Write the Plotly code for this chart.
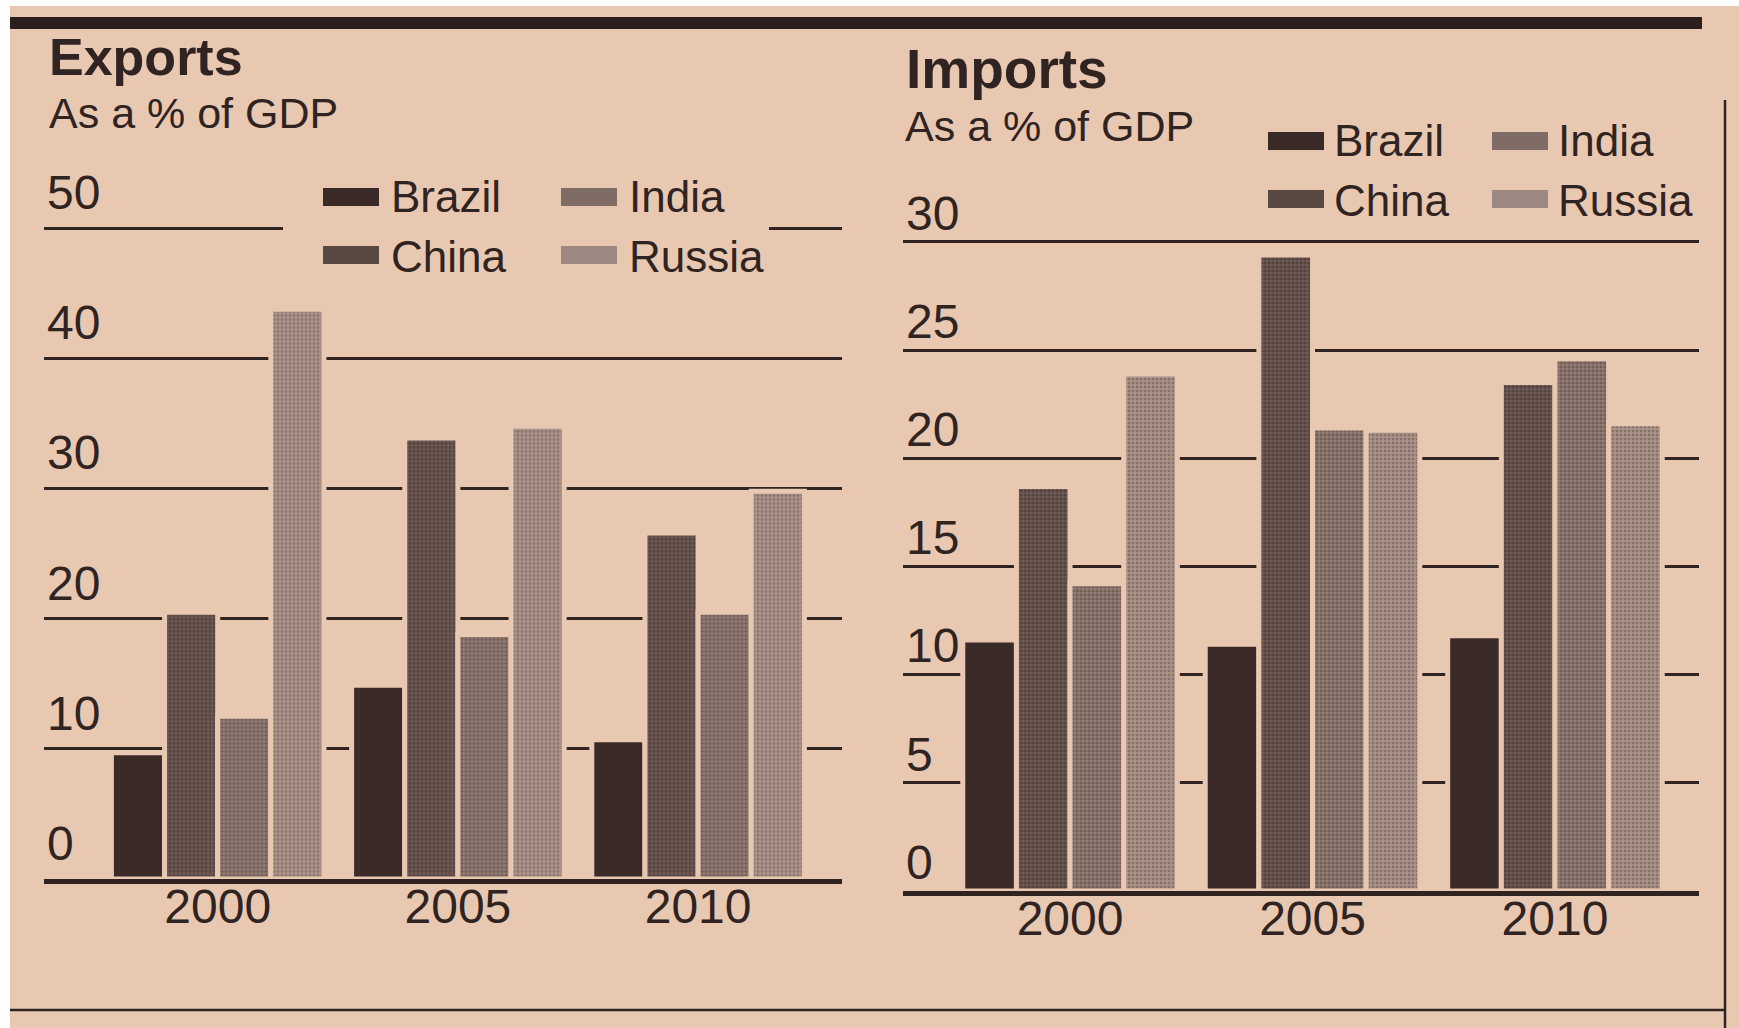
import plotly.graph_objects as go

# values (% of GDP)
years = ["2000", "2005", "2010"]
countries = ["Brazil", "China", "India", "Russia"]

exports_brazil = [9.7, 14.9, 10.7]
exports_china = [20.5, 33.9, 26.6]
exports_india = [12.5, 18.8, 20.5]
exports_russia = [43.8, 34.8, 29.8]

imports_brazil = [11.6, 11.4, 11.8]
imports_china = [18.7, 29.4, 23.5]
imports_india = [14.2, 21.4, 24.6]
imports_russia = [23.9, 21.3, 21.6]

export_ticks = [0, 10, 20, 30, 40, 50]
import_ticks = [0, 5, 10, 15, 20, 25, 30]

W, H = 1739, 1028
PAPER = "#e9c8b2"
INK = "#2f2421"
FONT = "Liberation Sans"


def fx(px):
    return px / W


def fy(py):
    return 1 - py / H


# halftone look for each country (swatch = average tone of the screen)
styles = {
    "Brazil": dict(color="#3a2b28", swatch="#3a2b28", pattern=dict(shape="")),
    "China": dict(color="#6f5a55", swatch="#5a4843",
                  pattern=dict(shape=".", fgcolor="#382a27", bgcolor="#6f5a55", size=4, solidity=0.5)),
    "India": dict(color="#937d75", swatch="#7f6c65",
                  pattern=dict(shape=".", fgcolor="#4f3f3a", bgcolor="#937d75", size=4, solidity=0.5)),
    "Russia": dict(color="#ad958b", swatch="#9c8880",
                   pattern=dict(shape=".", fgcolor="#63524c", bgcolor="#ad958b", size=4, solidity=0.45)),
}

exports = dict(zip(countries, [exports_brazil, exports_china, exports_india, exports_russia]))
imports = dict(zip(countries, [imports_brazil, imports_china, imports_india, imports_russia]))

# legend blocks: (legend name, left of swatch, top of legend) per column
LEG_ITEM_W = 56
exp_legs = [("legend", 323, 160), ("legend", 323, 160), ("legend2", 561, 160), ("legend2", 561, 160)]
imp_legs = [("legend3", 1268, 104), ("legend3", 1268, 104), ("legend4", 1492, 104), ("legend4", 1492, 104)]
ROW_OFFSETS = [37, 95]  # text centre below legend top, per row

fig = go.Figure()

for data, xa, ya, legs in [(exports, "x", "y", exp_legs), (imports, "x2", "y2", imp_legs)]:
    for i, country in enumerate(countries):
        st = styles[country]
        leg, sw_left, leg_top = legs[i]
        # the paper-coloured outline breaks the gridlines next to each bar
        fig.add_trace(go.Bar(
            x=years, y=data[country], name=country,
            xaxis=xa, yaxis=ya, showlegend=False,
            marker=dict(color=st["color"], pattern=st["pattern"],
                        line=dict(color=PAPER, width=5)),
            hoverinfo="y+name",
        ))
        # legend entry (text only, swatch drawn below as a wide block)
        fig.add_trace(go.Scatter(
            x=[None], y=[None], name=country, legend=leg, mode="lines",
            xaxis="x3", yaxis="y3", hoverinfo="skip",
            line=dict(color=st["swatch"], width=0),
        ))
        cy = leg_top + ROW_OFFSETS[i % 2]
        fig.add_shape(type="rect", xref="paper", yref="paper",
                      x0=fx(sw_left), x1=fx(sw_left + LEG_ITEM_W),
                      y0=fy(cy + 9), y1=fy(cy - 9),
                      fillcolor=st["swatch"], line_width=0)

axis_common = dict(showgrid=False, showline=True, linecolor=INK, linewidth=5,
                   ticks="", tickfont=dict(family=FONT, size=48, color=INK),
                   ticklabelstandoff=-19, type="category", fixedrange=True)
yaxis_common = dict(showgrid=True, gridcolor=INK, gridwidth=2.5, zeroline=False,
                    showline=False, ticks="", ticklabelposition="inside",
                    tickfont=dict(family=FONT, size=48, color=INK), fixedrange=True)

legend_common = dict(xanchor="left", yanchor="top", bgcolor="rgba(0,0,0,0)", itemwidth=LEG_ITEM_W,
                     font=dict(family=FONT, size=44, color=INK), tracegroupgap=0)

fig.update_layout(
    width=W, height=H,
    margin=dict(l=0, r=0, t=0, b=0),
    paper_bgcolor="white",
    plot_bgcolor="rgba(0,0,0,0)",
    barmode="group", bargap=0.115, bargroupgap=0,
    font=dict(family=FONT, color=INK),
    xaxis=dict(axis_common, domain=[fx(44), fx(842)], range=[-0.723, 2.599], anchor="y"),
    yaxis=dict(yaxis_common, domain=[fy(879), fy(137.4)], range=[0, 57],
               tickvals=export_ticks, ticklabelshift=-36, anchor="x"),
    xaxis2=dict(axis_common, domain=[fx(903), fx(1699)], range=[-0.689, 2.594], anchor="y2"),
    yaxis2=dict(yaxis_common, domain=[fy(891), fy(177)], range=[0, 33],
                tickvals=import_ticks, ticklabelshift=-29, anchor="x2"),
    xaxis3=dict(visible=False, domain=[0, 0.001], anchor="y3"),
    yaxis3=dict(visible=False, domain=[0, 0.001], anchor="x3"),
    # legend text starts 12px right of the swatch
    legend=dict(legend_common, x=fx(391 - LEG_ITEM_W - 10), y=fy(160)),
    legend2=dict(legend_common, x=fx(629 - LEG_ITEM_W - 10), y=fy(160)),
    legend3=dict(legend_common, x=fx(1334 - LEG_ITEM_W - 10), y=fy(104)),
    legend4=dict(legend_common, x=fx(1558 - LEG_ITEM_W - 10), y=fy(104)),
)

fig.add_annotation(text="<b>Exports</b>", x=fx(47), y=fy(57), xref="paper", yref="paper",
                   xanchor="left", yanchor="middle", showarrow=False,
                   font=dict(family=FONT, size=52, color=INK))
fig.add_annotation(text="As a % of GDP", x=fx(47), y=fy(113), xref="paper", yref="paper",
                   xanchor="left", yanchor="middle", showarrow=False,
                   font=dict(family=FONT, size=43, color=INK))
fig.add_annotation(text="<b>Imports</b>", x=fx(904), y=fy(69), xref="paper", yref="paper",
                   xanchor="left", yanchor="middle", showarrow=False,
                   font=dict(family=FONT, size=55, color=INK))
fig.add_annotation(text="As a % of GDP", x=fx(903), y=fy(126), xref="paper", yref="paper",
                   xanchor="left", yanchor="middle", showarrow=False,
                   font=dict(family=FONT, size=43, color=INK))

# newsprint page and rules
fig.add_shape(type="rect", xref="paper", yref="paper", x0=fx(10), x1=1, y0=0, y1=fy(6),
              fillcolor=PAPER, line_width=0, layer="below")
fig.add_shape(type="line", xref="paper", yref="paper", x0=fx(10), x1=fx(1702),
              y0=fy(23), y1=fy(23), line=dict(color="#2a1f1c", width=12))
fig.add_shape(type="line", xref="paper", yref="paper", x0=fx(10), x1=fx(1725),
              y0=fy(1010), y1=fy(1010), line=dict(color=INK, width=2.5))
fig.add_shape(type="line", xref="paper", yref="paper", x0=fx(1725), x1=fx(1725),
              y0=fy(100), y1=0, line=dict(color=INK, width=2.5))
# legend interrupts the top gridline of the exports panel
fig.add_shape(type="rect", xref="x", yref="y", x0=0.272, x1=2.295, y0=49.5, y1=50.5,
              fillcolor=PAPER, line_width=0, layer="between")

fig.write_html("out.html", config={"displayModeBar": False},
               post_script="document.body.style.margin = '0px';")
